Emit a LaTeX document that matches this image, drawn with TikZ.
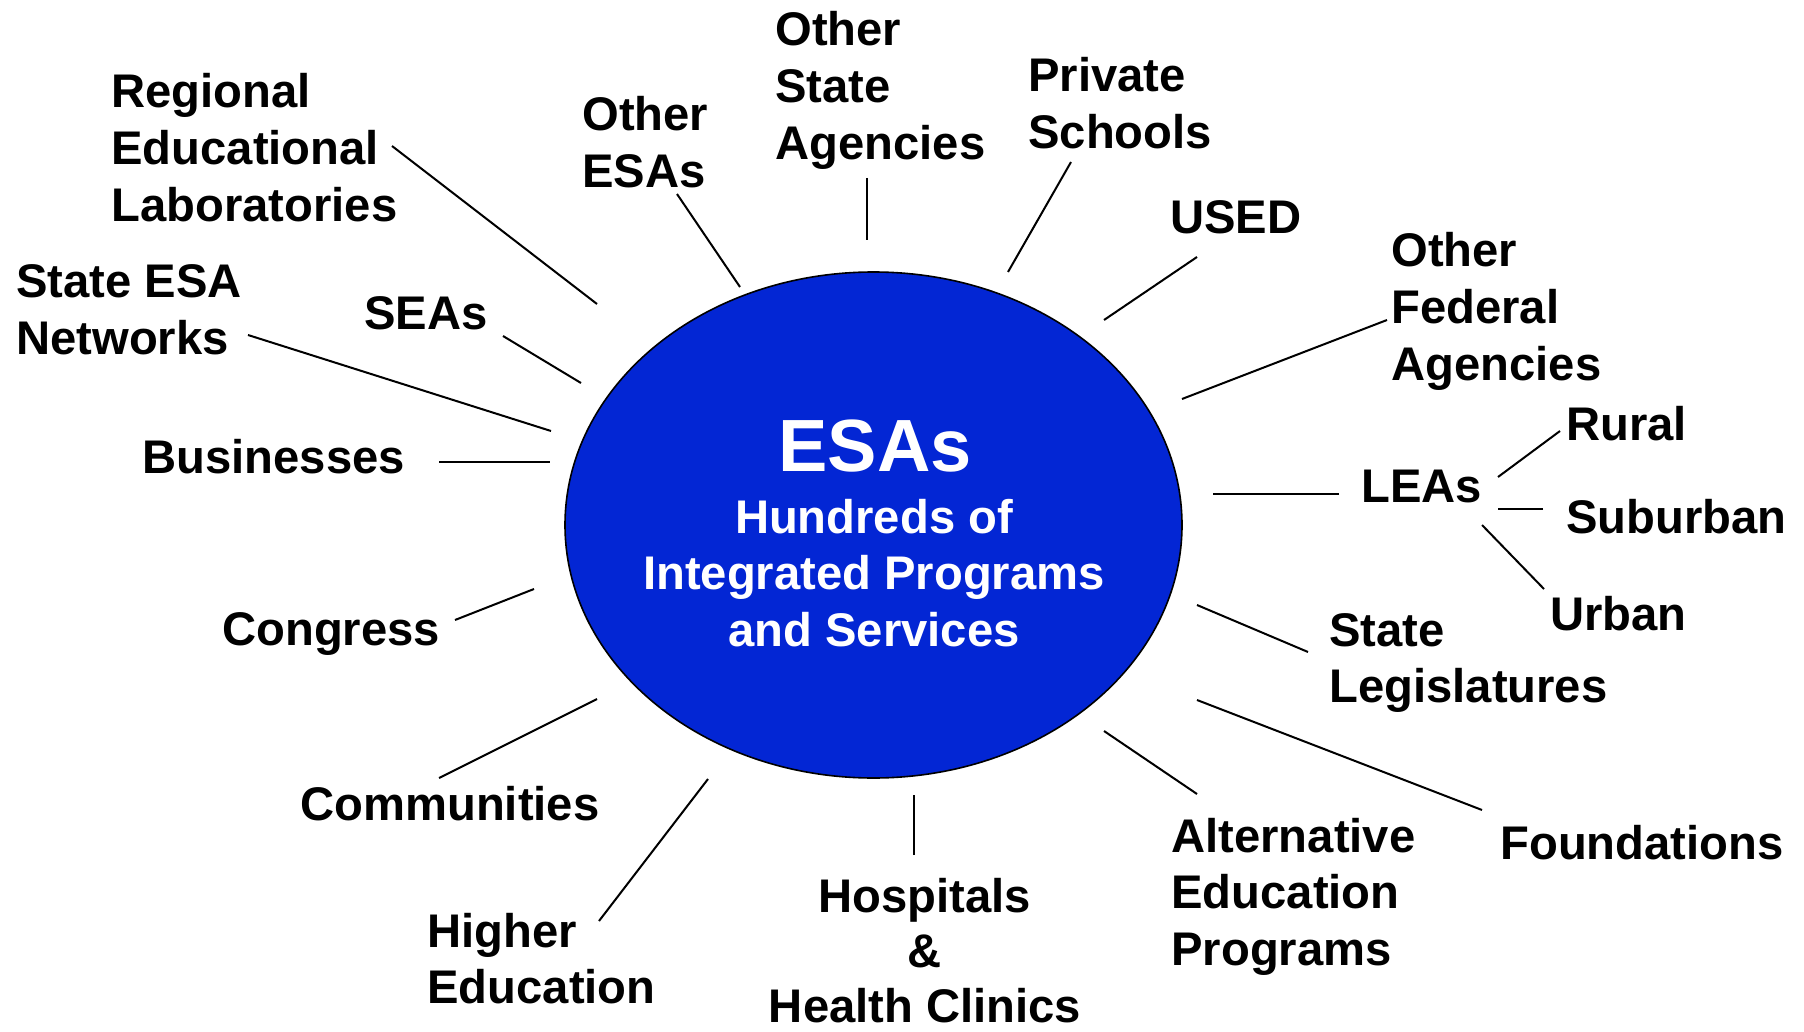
\documentclass[tikz,border=0pt]{standalone}
\usepackage{fontspec}
\setmainfont{Liberation Sans}
\definecolor{esablue}{RGB}{3,38,212}
\newcommand\lblfont{\fontsize{23.6}{28.4}\selectfont\bfseries}
\newcommand\esafont{\fontsize{37}{40}\selectfont\bfseries}
\newcommand\lblstack[1]{\begin{tabular}[t]{@{}l@{}}#1\end{tabular}}
\newcommand\lblcstack[1]{\begin{tabular}[t]{@{}c@{}}#1\end{tabular}}
\newcommand\tightcstack[1]{\vtop{\baselineskip=27.5pt\halign{\hfil##\hfil\cr#1\crcr}}}
\begin{document}
\begin{tikzpicture}[x=0.5pt,y=-0.5pt,
  lbl/.style={anchor=base west, inner sep=0pt, font=\lblfont, text=black},
  clbl/.style={anchor=base, inner sep=0pt, font=\lblfont, text=black},
  conn/.style={line width=1pt, black}]
\useasboundingbox (0,0) rectangle (1804,1032);
\fill[white] (0,0) rectangle (1804,1032);

% central ellipse
\draw[draw=black, line width=0.8pt, fill=esablue] (873.5,525) ellipse [x radius=308.5, y radius=253];
\node[anchor=base, inner sep=0pt, font=\esafont, text=white] (esa) at (875,471) {ESAs};
\node[anchor=base, inner sep=0pt, font=\lblfont, text=white] (sub) at (874,533)
  {\lblcstack{Hundreds of\\Integrated Programs\\and Services}};

% labels
\node[lbl] (rel) at (111,108) {\lblstack{Regional\\Educational\\Laboratories}};
\node[lbl] (oesa) at (582,131) {\lblstack{Other\\ESAs}};
\node[lbl] (osa) at (775,46) {\lblstack{Other\\State\\Agencies}};
\node[lbl] (ps) at (1028,92) {\lblstack{Private\\Schools}};
\node[lbl] (used) at (1170,234) {USED};
\node[lbl] (ofa) at (1391,267) {\lblstack{Other\\Federal\\Agencies}};
\node[lbl] (rural) at (1566,440) {Rural};
\node[lbl] (leas) at (1361,502) {LEAs};
\node[lbl] (suburb) at (1566,533) {Suburban};
\node[lbl] (urban) at (1550,630) {Urban};
\node[lbl] (sl) at (1329,646) {\lblstack{State\\Legislatures}};
\node[lbl] (found) at (1500,859) {Foundations};
\node[lbl] (alt) at (1171,852) {\lblstack{Alternative\\Education\\Programs}};
\node[clbl] (hosp) at (925,912) {\tightcstack{Hospitals\cr\&\cr Health Clinics}};
\node[lbl] (higher) at (427,947) {\lblstack{Higher\\Education}};
\node[lbl] (comm) at (300,820) {Communities};
\node[lbl] (cong) at (222,645) {Congress};
\node[lbl] (bus) at (142,473) {Businesses};
\node[lbl] (sesan) at (16,298) {\lblstack{State ESA\\Networks}};
\node[lbl] (seas) at (364,329) {SEAs};

% connector end points
\coordinate (relA) at (392,146);   \coordinate (relB) at (597,304);
\coordinate (oesaA) at (677,194);  \coordinate (oesaB) at (740,287);
\coordinate (osaA) at (867,178);   \coordinate (osaB) at (867,240);
\coordinate (psA) at (1071,162);   \coordinate (psB) at (1008,272);
\coordinate (usedA) at (1197,257); \coordinate (usedB) at (1104,320);
\coordinate (ofaA) at (1387,320);  \coordinate (ofaB) at (1182,399);
\coordinate (leasA) at (1339,494); \coordinate (leasB) at (1213,494);
\coordinate (ruralA) at (1560,431); \coordinate (ruralB) at (1498,477);
\coordinate (subA) at (1543,509);  \coordinate (subB) at (1498,509);
\coordinate (urbanA) at (1544,589); \coordinate (urbanB) at (1482,525);
\coordinate (slA) at (1308,652);   \coordinate (slB) at (1197,605);
\coordinate (foundA) at (1482,810); \coordinate (foundB) at (1197,700);
\coordinate (altA) at (1197,794);  \coordinate (altB) at (1104,731);
\coordinate (hospA) at (914,855);  \coordinate (hospB) at (914,795);
\coordinate (higherA) at (599,921); \coordinate (higherB) at (708,779);
\coordinate (commA) at (439,778);  \coordinate (commB) at (597,699);
\coordinate (congA) at (455,620);  \coordinate (congB) at (534,589);
\coordinate (busA) at (439,462);   \coordinate (busB) at (550,462);
\coordinate (sesanA) at (248,335); \coordinate (sesanB) at (551,431);
\coordinate (seasA) at (503,336);  \coordinate (seasB) at (581,383);

% connectors
\draw[conn] (relA) -- (relB);
\draw[conn] (oesaA) -- (oesaB);
\draw[conn] (osaA) -- (osaB);
\draw[conn] (psA) -- (psB);
\draw[conn] (usedA) -- (usedB);
\draw[conn] (ofaA) -- (ofaB);
\draw[conn] (leasA) -- (leasB);
\draw[conn] (ruralA) -- (ruralB);
\draw[conn] (subA) -- (subB);
\draw[conn] (urbanA) -- (urbanB);
\draw[conn] (slA) -- (slB);
\draw[conn] (foundA) -- (foundB);
\draw[conn] (altA) -- (altB);
\draw[conn] (hospA) -- (hospB);
\draw[conn] (higherA) -- (higherB);
\draw[conn] (commA) -- (commB);
\draw[conn] (congA) -- (congB);
\draw[conn] (busA) -- (busB);
\draw[conn] (sesanA) -- (sesanB);
\draw[conn] (seasA) -- (seasB);
\end{tikzpicture}
\end{document}
